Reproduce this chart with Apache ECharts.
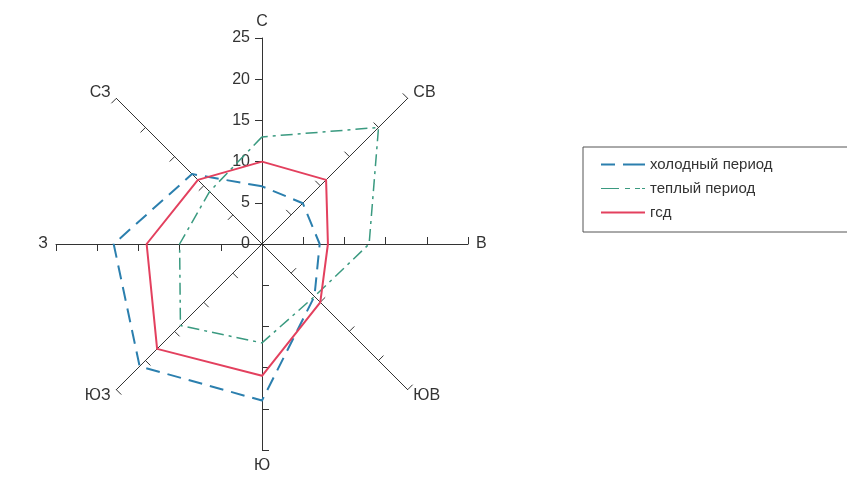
<!DOCTYPE html>
<html>
<head>
<meta charset="utf-8">
<script src="https://cdn.jsdelivr.net/npm/echarts@6/dist/echarts.min.js"></script>
<style>
  html, body { margin: 0; padding: 0; background: #fff; }
  #main { width: 847px; height: 482px; }
</style>
</head>
<body>
<div id="main"></div>
<script>
// compass order: С, СВ, В, ЮВ, Ю, ЮЗ, З, СЗ
var directions = ['С', 'СВ', 'В', 'ЮВ', 'Ю', 'ЮЗ', 'З', 'СЗ'];
var coldValues = [7, 7, 7, 9, 19, 21, 18, 12];
var warmValues = [13, 20, 13, 9, 12, 14, 10, 9];
var gsdValues = [10, 11, 8, 10, 16, 18, 14, 11];
var seriesNames = ['холодный период', 'теплый период', 'гсд'];
var tickValues = [0, 5, 10, 15, 20, 25];

// radar goes counterclockwise from the top
var order = [0, 7, 6, 5, 4, 3, 2, 1];
function reorder(arr) {
  return order.map(function (i) { return arr[i]; });
}

var myChart = echarts.init(document.getElementById('main'));

var cx = 262, cy = 244, R = 206;

var option = {
  backgroundColor: '#fff',
  animation: false,
  textStyle: { fontFamily: 'Liberation Sans, Arial, sans-serif' },
  legend: {
    orient: 'vertical',
    left: 583,
    top: 147,
    borderColor: '#555',
    borderWidth: 1,
    borderRadius: 0,
    padding: [10, 80, 12, 18],
    itemGap: 9,
    itemWidth: 44,
    itemHeight: 10,
    textStyle: { fontSize: 15, color: '#333' },
    data: [
      { name: seriesNames[0], icon: 'path://M0,4h14v2h-14z M22,4h22v2h-22z', itemStyle: { color: '#2b7fae' } },
      { name: seriesNames[1], icon: 'path://M0,4.5h18v1h-18z M24,4.5h5v1h-5z M34,4.5h5v1h-5z M41,4.5h3v1h-3z', itemStyle: { color: '#3a9a80' } },
      { name: seriesNames[2], icon: 'path://M0,4h44v2h-44z', itemStyle: { color: '#e3405e' } }
    ]
  },
  grid: {
    left: cx,
    top: cy - R,
    width: 1,
    height: R
  },
  xAxis: { type: 'value', show: false },
  yAxis: {
    type: 'value',
    min: 0,
    max: 25,
    interval: 5,
    axisLine: { show: false },
    axisTick: { show: false },
    splitLine: { show: false },
    axisLabel: {
      margin: 12,
      fontSize: 16,
      color: '#333',
      customValues: tickValues
    }
  },
  radar: {
    center: [cx, cy],
    radius: R,
    startAngle: 90,
    shape: 'polygon',
    splitNumber: 5,
    indicator: reorder(directions).map(function (d) {
      return { name: d, min: 0, max: 25 };
    }),
    axisName: { color: '#333', fontSize: 16 },
    nameGap: 8,
    axisLine: { lineStyle: { color: '#333', width: 1 } },
    axisTick: { show: true, length: 7, lineStyle: { color: '#333', width: 1 } },
    axisLabel: { show: false },
    splitLine: { show: false },
    splitArea: { show: false }
  },
  series: [
    {
      name: seriesNames[0],
      type: 'radar',
      symbol: 'none',
      lineStyle: { color: '#2b7fae', width: 2, type: [14, 8] },
      itemStyle: { color: '#2b7fae' },
      data: [{ name: seriesNames[0], value: reorder(coldValues) }]
    },
    {
      name: seriesNames[1],
      type: 'radar',
      symbol: 'none',
      lineStyle: { color: '#3a9a80', width: 1.5, type: [12, 5, 3, 5] },
      itemStyle: { color: '#3a9a80' },
      data: [{ name: seriesNames[1], value: reorder(warmValues) }]
    },
    {
      name: seriesNames[2],
      type: 'radar',
      symbol: 'none',
      lineStyle: { color: '#e3405e', width: 2 },
      itemStyle: { color: '#e3405e' },
      data: [{ name: seriesNames[2], value: reorder(gsdValues) }]
    }
  ]
};

myChart.setOption(option);
</script>
</body>
</html>
